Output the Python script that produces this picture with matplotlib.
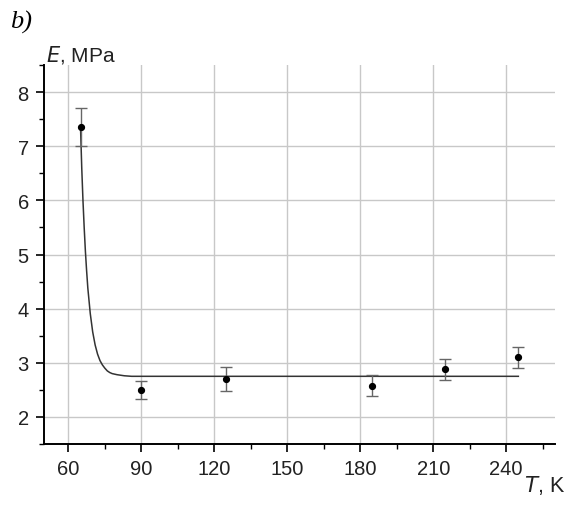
import matplotlib
matplotlib.use("Agg")
import matplotlib.pyplot as plt
from matplotlib.ticker import MultipleLocator

plt.rcParams["font.family"] = ["Liberation Sans", "DejaVu Sans"]

# measured points
temp = [65, 90, 125, 185, 215, 245]
modulus = [7.35, 2.5, 2.7, 2.58, 2.88, 3.1]
err = [0.35, 0.17, 0.23, 0.2, 0.19, 0.19]

# fitted curve
fit_t = [65, 65.5, 66, 66.5, 67, 67.5, 68, 69, 70, 71, 72, 73, 74, 75, 76,
         77, 78, 80, 83, 86, 90, 120, 180, 245]
fit_e = [7.35, 6.6, 6.0, 5.5, 5.06, 4.7, 4.38, 3.91, 3.57, 3.33, 3.16, 3.04,
         2.96, 2.9, 2.85, 2.82, 2.8, 2.78, 2.76, 2.75, 2.75, 2.75, 2.75, 2.75]

fig = plt.figure(figsize=(5.72, 5.10), dpi=100)
ax = fig.add_axes([0.077, 0.1275, 0.893, 0.743])

ax.plot(fit_t, fit_e, color="#333333", lw=1.1, zorder=3)
ax.errorbar(temp, modulus, yerr=err, fmt="o", color="black", ms=4.2,
            ecolor="#666666", elinewidth=1.0, capsize=4, capthick=1.0, zorder=4)

ax.set_xlim(50, 260)
ax.set_ylim(1.5, 8.5)
ax.xaxis.set_major_locator(MultipleLocator(30))
ax.xaxis.set_minor_locator(MultipleLocator(15))
ax.yaxis.set_major_locator(MultipleLocator(1))
ax.yaxis.set_minor_locator(MultipleLocator(0.5))
ax.set_xticks(range(60, 241, 30))
ax.grid(True, which="major", color="#c8c8c8", lw=1.0)
ax.set_axisbelow(True)

for s in ("top", "right"):
    ax.spines[s].set_visible(False)
for s in ("left", "bottom"):
    ax.spines[s].set_linewidth(1.4)
ax.tick_params(which="major", direction="out", length=6, width=1.2,
               labelsize=14.5, labelcolor="#222222")
ax.tick_params(axis="y", which="major", pad=5)
ax.tick_params(axis="x", which="major", pad=5)
ax.tick_params(which="minor", direction="out", length=3.5, width=1.0)

fig.text(0.018, 0.955, "b)", fontsize=19, family="Liberation Serif",
         style="italic", va="center", ha="left")
fig.text(0.08, 0.892, r"$\it{E}$, MPa", fontsize=15, va="center", ha="left",
         color="#222222")
fig.text(0.988, 0.048, r"$\it{T}$, K", fontsize=15.5, va="center", ha="right",
         color="#222222")

fig.savefig("out.png", dpi=100)
plt.close(fig)
